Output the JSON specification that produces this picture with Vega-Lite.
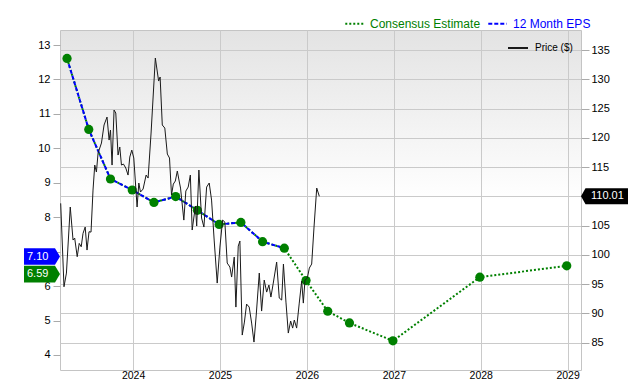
{
  "$schema": "https://vega.github.io/schema/vega-lite/v6.json",
  "width": 521,
  "height": 340,
  "autosize": {"type": "none"},
  "padding": {"left": 60, "top": 30, "right": 59, "bottom": 10},
  "config": {
    "font": "Liberation Sans",
    "view": {
      "stroke": "#c4c4c4",
      "fill": {
        "gradient": "linear", "x1": 0, "y1": 0, "x2": 0, "y2": 1,
        "stops": [
          {"offset": 0, "color": "#e3e3e3"},
          {"offset": 0.5, "color": "#ffffff"},
          {"offset": 1, "color": "#ffffff"}
        ]
      }
    },
    "axis": {
      "labelFont": "Liberation Sans",
      "labelColor": "#000000",
      "labelFontSize": 11,
      "domain": false,
      "tickColor": "#aaaaaa",
      "gridColor": "#cacaca",
      "title": null
    }
  },
  "datasets": {
    "eps": [
      {"t": 2023.24, "eps": 12.61, "hist": true},
      {"t": 2023.49, "eps": 10.55, "hist": true},
      {"t": 2023.74, "eps": 9.11, "hist": true},
      {"t": 2023.99, "eps": 8.79, "hist": true},
      {"t": 2024.24, "eps": 8.43, "hist": true},
      {"t": 2024.49, "eps": 8.60, "hist": true},
      {"t": 2024.74, "eps": 8.20, "hist": true},
      {"t": 2024.99, "eps": 7.79, "hist": true},
      {"t": 2025.24, "eps": 7.85, "hist": true},
      {"t": 2025.49, "eps": 7.29, "hist": true},
      {"t": 2025.74, "eps": 7.10, "hist": true},
      {"t": 2025.99, "eps": 6.16, "hist": false},
      {"t": 2026.24, "eps": 5.27, "hist": false},
      {"t": 2026.49, "eps": 4.93, "hist": false},
      {"t": 2026.99, "eps": 4.41, "hist": false},
      {"t": 2027.99, "eps": 6.26, "hist": false},
      {"t": 2028.99, "eps": 6.59, "hist": false}
    ],
    "tags": [
      {"t": 2023.159, "eps": 7.10, "label": "7.10", "c": "#0000ff"},
      {"t": 2023.159, "eps": 6.59, "label": "6.59", "c": "#008000"}
    ],
    "ptag": [
      {"t": 2029.154, "price": 110.01, "label": "110.01"}
    ],
    "price": [
      {"t": 2023.167, "price": 108.81},
      {"t": 2023.205, "price": 94.56},
      {"t": 2023.233, "price": 96.9},
      {"t": 2023.277, "price": 108.18},
      {"t": 2023.309, "price": 102.54},
      {"t": 2023.328, "price": 102.88},
      {"t": 2023.357, "price": 99.69},
      {"t": 2023.380, "price": 101.97},
      {"t": 2023.403, "price": 101.39},
      {"t": 2023.424, "price": 103.68},
      {"t": 2023.449, "price": 104.76},
      {"t": 2023.470, "price": 100.83},
      {"t": 2023.493, "price": 103.96},
      {"t": 2023.516, "price": 103.9},
      {"t": 2023.539, "price": 111.08},
      {"t": 2023.559, "price": 115.35},
      {"t": 2023.578, "price": 114.16},
      {"t": 2023.597, "price": 117.4},
      {"t": 2023.636, "price": 119.11},
      {"t": 2023.666, "price": 122.19},
      {"t": 2023.700, "price": 123.55},
      {"t": 2023.724, "price": 119.62},
      {"t": 2023.740, "price": 121.33},
      {"t": 2023.758, "price": 115.35},
      {"t": 2023.781, "price": 124.75},
      {"t": 2023.801, "price": 124.24},
      {"t": 2023.827, "price": 117.06},
      {"t": 2023.847, "price": 118.43},
      {"t": 2023.866, "price": 115.35},
      {"t": 2023.889, "price": 115.52},
      {"t": 2023.916, "price": 114.84},
      {"t": 2023.942, "price": 113.64},
      {"t": 2023.962, "price": 116.72},
      {"t": 2023.985, "price": 117.91},
      {"t": 2024.008, "price": 116.55},
      {"t": 2024.046, "price": 108.18},
      {"t": 2024.066, "price": 112.28},
      {"t": 2024.085, "price": 110.74},
      {"t": 2024.115, "price": 111.25},
      {"t": 2024.150, "price": 113.64},
      {"t": 2024.173, "price": 113.13},
      {"t": 2024.207, "price": 120.82},
      {"t": 2024.256, "price": 133.63},
      {"t": 2024.294, "price": 129.7},
      {"t": 2024.311, "price": 130.39},
      {"t": 2024.336, "price": 122.19},
      {"t": 2024.365, "price": 121.67},
      {"t": 2024.394, "price": 117.23},
      {"t": 2024.419, "price": 116.55},
      {"t": 2024.442, "price": 110.23},
      {"t": 2024.463, "price": 112.1},
      {"t": 2024.486, "price": 112.62},
      {"t": 2024.509, "price": 114.33},
      {"t": 2024.530, "price": 112.62},
      {"t": 2024.546, "price": 111.42},
      {"t": 2024.584, "price": 105.95},
      {"t": 2024.607, "price": 110.91},
      {"t": 2024.634, "price": 111.59},
      {"t": 2024.659, "price": 113.64},
      {"t": 2024.680, "price": 104.25},
      {"t": 2024.717, "price": 108.35},
      {"t": 2024.732, "price": 104.93},
      {"t": 2024.757, "price": 114.5},
      {"t": 2024.788, "price": 106.3},
      {"t": 2024.815, "price": 104.76},
      {"t": 2024.846, "price": 111.59},
      {"t": 2024.876, "price": 112.28},
      {"t": 2024.903, "price": 109.37},
      {"t": 2024.933, "price": 102.54},
      {"t": 2024.968, "price": 95.19},
      {"t": 2024.999, "price": 101.34},
      {"t": 2025.030, "price": 105.95},
      {"t": 2025.056, "price": 105.61},
      {"t": 2025.083, "price": 98.61},
      {"t": 2025.114, "price": 97.93},
      {"t": 2025.134, "price": 96.22},
      {"t": 2025.164, "price": 99.63},
      {"t": 2025.183, "price": 91.09},
      {"t": 2025.210, "price": 101.51},
      {"t": 2025.229, "price": 102.37},
      {"t": 2025.256, "price": 86.31},
      {"t": 2025.281, "price": 88.53},
      {"t": 2025.306, "price": 91.6},
      {"t": 2025.336, "price": 91.09},
      {"t": 2025.364, "price": 88.36},
      {"t": 2025.391, "price": 85.11},
      {"t": 2025.417, "price": 89.72},
      {"t": 2025.452, "price": 96.9},
      {"t": 2025.479, "price": 90.41},
      {"t": 2025.509, "price": 95.7},
      {"t": 2025.537, "price": 93.65},
      {"t": 2025.563, "price": 94.85},
      {"t": 2025.586, "price": 92.8},
      {"t": 2025.613, "price": 95.19},
      {"t": 2025.652, "price": 98.78},
      {"t": 2025.682, "price": 92.63},
      {"t": 2025.710, "price": 92.29},
      {"t": 2025.730, "price": 98.44},
      {"t": 2025.759, "price": 91.94},
      {"t": 2025.786, "price": 86.65},
      {"t": 2025.813, "price": 88.7},
      {"t": 2025.836, "price": 87.5},
      {"t": 2025.855, "price": 88.87},
      {"t": 2025.882, "price": 87.5},
      {"t": 2025.912, "price": 91.77},
      {"t": 2025.940, "price": 95.53},
      {"t": 2025.959, "price": 91.77},
      {"t": 2025.978, "price": 95.7},
      {"t": 2026.005, "price": 96.05},
      {"t": 2026.028, "price": 97.75},
      {"t": 2026.055, "price": 98.44},
      {"t": 2026.082, "price": 104.76},
      {"t": 2026.113, "price": 111.42},
      {"t": 2026.143, "price": 110.01}
    ]
  },
  "layer": [
    {
      "encoding": {
        "x": {
          "field": "t", "type": "quantitative",
          "scale": {"domain": [2023.159, 2029.154], "nice": false, "zero": false},
          "axis": {"values": [2024, 2025, 2026, 2027, 2028, 2029], "format": "d", "grid": true, "ticks": false, "labelPadding": 0, "labelFontSize": 10.5}
        },
        "y": {
          "field": "eps", "type": "quantitative",
          "scale": {"domain": [3.564, 13.436], "nice": false, "zero": false},
          "axis": {"orient": "left", "values": [4, 5, 6, 7, 8, 9, 10, 11, 12, 13], "grid": false, "tickSize": 7, "labelPadding": 3, "labelExpr": "datum.value == 7 ? '' : datum.label"}
        }
      },
      "layer": [
        {
          "data": {"name": "eps"},
          "mark": {"type": "line", "strokeWidth": 2},
          "encoding": {
            "color": {
              "datum": "Consensus Estimate",
              "scale": {"domain": ["Consensus Estimate", "12 Month EPS"], "range": ["#008000", "#0000ff"]},
              "legend": {
                "orient": "none", "legendX": 284, "legendY": -17, "direction": "horizontal",
                "title": null, "labelFontSize": 12, "labelFont": "Liberation Sans",
                "symbolType": "stroke", "symbolStrokeWidth": 2, "symbolSize": 340,
                "columnPadding": 3, "labelOffset": 5,
                "encode": {
                  "labels": {"update": {"fill": {"signal": "datum.value === '12 Month EPS' ? '#0000ff' : '#008000'"}}},
                  "symbols": {"update": {"strokeDash": {"signal": "datum.value === '12 Month EPS' ? [4, 2] : [2, 2]"}}}
                }
              }
            },
            "strokeDash": {
              "datum": "Consensus Estimate",
              "scale": {"domain": ["Consensus Estimate", "12 Month EPS"], "range": [[2, 2], [4, 2]]},
              "legend": null
            }
          }
        },
        {
          "data": {"name": "eps"},
          "transform": [{"filter": "datum.hist"}],
          "mark": {"type": "line", "strokeWidth": 2},
          "encoding": {
            "color": {"datum": "12 Month EPS"},
            "strokeDash": {"datum": "12 Month EPS"}
          }
        },
        {
          "data": {"name": "eps"},
          "mark": {"type": "circle", "size": 85, "color": "#008000", "opacity": 1}
        },
        {
          "data": {"name": "tags"},
          "mark": {"type": "point", "shape": "M -3.6 0 L -0.5 0 L 0 0.83 L -0.5 1.66 L -3.6 1.66 Z", "filled": true, "size": 400, "opacity": 1},
          "encoding": {
            "fill": {"field": "c", "type": "nominal", "scale": null, "legend": null}
          }
        },
        {
          "data": {"name": "tags"},
          "mark": {"type": "text", "align": "left", "baseline": "middle", "dx": -33, "dy": 8.3, "fontSize": 11, "color": "#ffffff", "font": "Liberation Sans"},
          "encoding": {
            "text": {"field": "label"}
          }
        }
      ]
    },
    {
      "encoding": {
        "x": {"field": "t", "type": "quantitative"},
        "y": {
          "field": "price", "type": "quantitative",
          "scale": {"domain": [80.34, 138.42], "nice": false, "zero": false},
          "axis": {"orient": "right", "values": [85, 90, 95, 100, 105, 110, 115, 120, 125, 130, 135], "grid": true, "tickSize": 8, "labelPadding": 2, "labelExpr": "datum.value == 110 ? '' : datum.label"}
        }
      },
      "layer": [
        {
          "data": {"name": "price"},
          "mark": {"type": "line", "strokeWidth": 1, "interpolate": "linear"},
          "encoding": {
            "color": {
              "datum": "Price ($)",
              "scale": {"domain": ["Price ($)"], "range": ["#1a1a1a"]},
              "legend": {
                "orient": "none", "legendX": 447, "legendY": 7, "title": null,
                "labelFontSize": 10, "labelFont": "Liberation Sans", "labelColor": "#000000",
                "symbolType": "stroke", "symbolStrokeWidth": 2, "symbolSize": 400, "labelOffset": 6,
                "encode": {"symbols": {"update": {"stroke": {"value": "#777777"}}}}
              }
            }
          }
        },
        {
          "data": {"name": "ptag"},
          "mark": {"type": "point", "shape": "M 0 0 L 0.45 -0.8 L 4.7 -0.8 L 4.7 0.8 L 0.45 0.8 Z", "filled": true, "size": 400, "opacity": 1, "color": "#000000"}
        },
        {
          "data": {"name": "ptag"},
          "mark": {"type": "text", "align": "left", "baseline": "middle", "dx": 10, "fontSize": 11, "color": "#ffffff", "font": "Liberation Sans"},
          "encoding": {
            "text": {"field": "label"}
          }
        }
      ]
    }
  ],
  "resolve": {"scale": {"y": "independent", "color": "independent"}}
}
